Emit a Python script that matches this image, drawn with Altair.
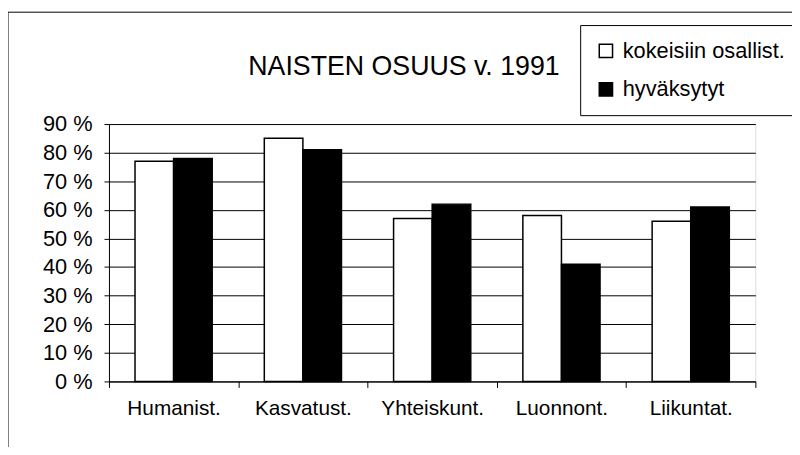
import altair as alt
import pandas as pd

categories = ["Humanist.", "Kasvatust.", "Yhteiskunt.", "Luonnont.", "Liikuntat."]
series = ["kokeisiin osallist.", "hyväksytyt"]
osallist = [77, 85, 57, 58, 56]
hyvaksytyt = [78, 81, 62, 41, 61]
y_ticks = [0, 10, 20, 30, 40, 50, 60, 70, 80, 90]
title_text = "NAISTEN OSUUS v. 1991"

rows = []
for c, a, b in zip(categories, osallist, hyvaksytyt):
    rows.append({"ala": c, "sarja": series[0], "osuus": a})
    rows.append({"ala": c, "sarja": series[1], "osuus": b})
df = pd.DataFrame(rows)
one = pd.DataFrame({"otsikko": [title_text]})

FONT = "Liberation Sans"
FS = 21

bars = alt.Chart(df).mark_bar(stroke="black", strokeWidth=1.5).encode(
    x=alt.X("ala:N", sort=categories,
            scale=alt.Scale(paddingInner=0, paddingOuter=0),
            axis=alt.Axis(title=None, labelAngle=0, tickBand="extent",
                          tickSize=6, labelPadding=10, labelFontSize=FS,
                          labelFont=FONT, labelColor="black",
                          domainColor="black", tickColor="black", grid=False)),
    xOffset=alt.XOffset("sarja:N", sort=series,
                        scale=alt.Scale(paddingInner=0, paddingOuter=0.675)),
    y=alt.Y("osuus:Q", scale=alt.Scale(domain=[0, 90], nice=False),
            axis=alt.Axis(title=None, values=y_ticks,
                          labelExpr="datum.value + ' %'",
                          tickSize=5, labelPadding=12, labelFontSize=22,
                          labelFont=FONT, labelColor="black",
                          domainColor="black", tickColor="black",
                          grid=True, gridColor="black", gridWidth=1)),
    color=alt.Color("sarja:N", sort=series,
                    scale=alt.Scale(domain=series, range=["white", "black"]),
                    legend=alt.Legend(title=None, orient="none",
                                      legendX=476, legendY=-100,
                                      strokeColor="black", padding=15,
                                      rowPadding=17, labelOffset=6,
                                      labelLimit=300,
                                      symbolType="square", symbolSize=180,
                                      symbolStrokeColor="black",
                                      symbolStrokeWidth=1.5,
                                      labelFontSize=22, labelFont=FONT,
                                      labelColor="black")),
)

frame_left = alt.Chart(one).mark_rule(color="black", strokeWidth=1).encode(
    x=alt.value(-102), y=alt.value(-113), y2=alt.value(400))
frame_top = alt.Chart(one).mark_rule(color="black", strokeWidth=1).encode(
    x=alt.value(-102), x2=alt.value(700), y=alt.value(-113))
title = alt.Chart(one).mark_text(
    fontSize=27, font=FONT, fontWeight="normal", color="black",
    align="center", baseline="alphabetic"
).encode(x=alt.value(298), y=alt.value(-50), text="otsikko:N")

chart = alt.layer(frame_left, frame_top, title, bars).properties(
    width=653, height=260,
    autosize=alt.AutoSizeParams(type="none"),
    padding={"left": 102, "top": 115, "right": 37, "bottom": 64},
).configure_view(stroke=None).configure(background="white")

chart.save("out.html", embed_options={"renderer": "svg", "actions": False})
